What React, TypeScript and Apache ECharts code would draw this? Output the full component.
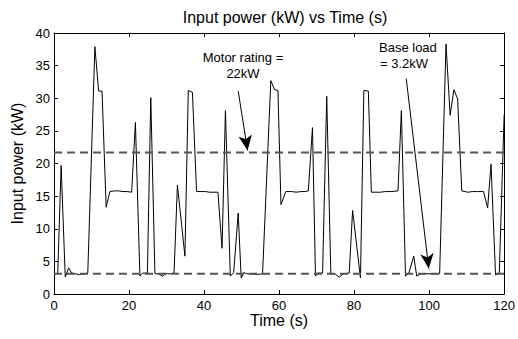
import React, { useEffect, useRef } from "react";
import * as echarts from "echarts";

const timeS: number[] = [1, 1.9, 3.0, 3.9, 4.7, 5.8, 6.8, 8.0, 9.0, 10.9, 11.9, 12.8, 13.9, 14.9, 16.1, 17.2, 18.4, 19.5, 20.7, 21.7, 22.9, 23.6, 24.9, 25.8, 26.9, 27.8, 28.9, 29.8, 31.0, 32.0, 32.9, 34.9, 35.8, 36.9, 38.0, 39.2, 40.4, 41.5, 42.6, 43.7, 44.8, 45.7, 47.0, 47.9, 49.1, 49.9, 50.6, 51.4, 52.7, 54.1, 55.6, 57.8, 58.8, 59.7, 60.5, 61.8, 63.4, 64.6, 65.8, 67.0, 67.8, 68.9, 69.7, 70.3, 71.6, 72.7, 73.8, 74.9, 76.0, 77.1, 78.7, 79.6, 81.7, 82.6, 83.8, 84.6, 85.8, 87.0, 88.4, 89.8, 91.7, 92.6, 93.7, 94.6, 95.9, 96.7, 97.9, 99.2, 100.5, 101.7, 102.8, 104.5, 105.6, 106.6, 107.6, 108.7, 110.3, 111.6, 112.9, 114.5, 115.6, 116.5, 117.7, 118.7, 120];

const powerKW: number[] = [3.2, 19.7, 2.6, 4.0, 3.2, 3.1, 2.95, 3.1, 3.2, 37.9, 31.1, 31.1, 13.3, 15.7, 15.8, 15.8, 15.7, 15.7, 15.6, 26.3, 2.75, 3.2, 3.2, 30.1, 3.1, 3.1, 2.75, 3.1, 3.1, 3.2, 16.7, 5.8, 31.2, 30.9, 15.7, 15.7, 15.7, 15.6, 15.6, 15.6, 7.0, 28.1, 2.75, 3.3, 12.4, 2.45, 3.3, 3.1, 3.1, 3.0, 3.1, 32.7, 31.3, 31.2, 13.7, 15.7, 15.7, 15.6, 15.7, 15.7, 15.8, 25.5, 2.75, 3.2, 3.2, 30.3, 3.06, 3.1, 2.55, 3.1, 3.2, 12.8, 2.45, 31.2, 31.1, 15.6, 15.6, 15.6, 15.7, 15.7, 15.8, 28.1, 2.75, 3.2, 5.8, 2.75, 3.1, 3.1, 3.1, 3.1, 3.1, 38.3, 27.4, 31.3, 29.9, 15.8, 15.6, 15.7, 15.7, 15.7, 13.2, 19.9, 2.95, 3.1, 27.5];

const xRange: number[] = [0, 120];
const motorRatingKW = 21.7;
const baseLoadKW = 3.1;

// arrows: [startTime, startPower, tipTime, tipPower]
const motorArrow: number[] = [49.1, 31.1, 51.6, 22.0];
const baseArrow: number[] = [93.9, 33.0, 99.9, 3.9];

const FONT = "'Liberation Sans', Arial, Helvetica, sans-serif";

export default function App() {
  const ref = useRef<HTMLDivElement>(null);
  useEffect(() => {
    if (!ref.current) return;
    const chart = echarts.init(ref.current, undefined, { renderer: "svg" });
    const axisCommon = {
      type: "value" as const,
      axisLine: { show: true, onZero: false, lineStyle: { color: "#000", width: 1 } },
      axisTick: { show: true, inside: true, length: 4, lineStyle: { color: "#000" } },
      splitLine: { show: false },
    };
    chart.setOption({
      animation: false,
      backgroundColor: "#fff",
      title: {
        text: "Input power (kW) vs Time (s)",
        left: 280,
        textAlign: "center",
        top: 4,
        textStyle: { fontFamily: FONT, fontSize: 16, fontWeight: "normal", color: "#000" },
      },
      grid: { left: 54, right: 12, top: 33, bottom: 45 },
      xAxis: [
        {
          ...axisCommon,
          min: 0,
          max: 120,
          interval: 20,
          position: "bottom",
          name: "Time (s)",
          nameLocation: "middle",
          nameGap: 18,
          nameMoveOverlap: false,
          nameTextStyle: { fontFamily: FONT, fontSize: 16, color: "#000", verticalAlign: "top" },
          axisLabel: { fontFamily: FONT, fontSize: 13, color: "#000", margin: 5 },
        },
        {
          ...axisCommon,
          min: 0,
          max: 120,
          interval: 20,
          position: "top",
          axisLabel: { show: false },
        },
      ],
      yAxis: [
        {
          ...axisCommon,
          min: 0,
          max: 40,
          interval: 5,
          position: "left",
          name: "Input power (kW)",
          nameLocation: "middle",
          nameGap: 29,
          nameMoveOverlap: false,
          nameRotate: 90,
          nameTextStyle: { fontFamily: FONT, fontSize: 16, color: "#000" },
          axisLabel: { fontFamily: FONT, fontSize: 13, color: "#000", margin: 4 },
        },
        {
          ...axisCommon,
          min: 0,
          max: 40,
          interval: 5,
          position: "right",
          axisLabel: { show: false },
        },
      ],
      series: [
        {
          type: "line",
          data: timeS.map((t, i) => [t, powerKW[i]]),
          showSymbol: false,
          lineStyle: { color: "#000", width: 1 },
          itemStyle: { color: "#000" },
          silent: true,
          markLine: {
            silent: true,
            symbol: ["none", "arrow"],
            symbolSize: [10, 15],
            label: { show: false },
            lineStyle: { color: "#000", width: 1, type: "solid" },
            data: [
              [{ coord: [motorArrow[0], motorArrow[1]] }, { coord: [motorArrow[2], motorArrow[3]] }],
              [{ coord: [baseArrow[0], baseArrow[1]] }, { coord: [baseArrow[2], baseArrow[3]] }],
            ],
          },
        },
        {
          type: "line",
          data: xRange.map((x) => [x, motorRatingKW]),
          showSymbol: false,
          lineStyle: { color: "#555", width: 2, type: [8, 5] },
          silent: true,
        },
        {
          type: "line",
          data: xRange.map((x) => [x, baseLoadKW]),
          showSymbol: false,
          lineStyle: { color: "#555", width: 2, type: [8, 5] },
          silent: true,
        },
      ],
      graphic: [
        { type: "text", x: 243, y: 57, style: { text: "Motor rating =", fill: "#000", font: `13px ${FONT}`, textAlign: "center", textVerticalAlign: "middle" } },
        { type: "text", x: 243, y: 73, style: { text: "22kW", fill: "#000", font: `13px ${FONT}`, textAlign: "center", textVerticalAlign: "middle" } },
        { type: "text", x: 379, y: 47, style: { text: "Base load", fill: "#000", font: `13px ${FONT}`, textAlign: "left", textVerticalAlign: "middle" } },
        { type: "text", x: 380, y: 63, style: { text: "= 3.2kW", fill: "#000", font: `13px ${FONT}`, textAlign: "left", textVerticalAlign: "middle" } },
      ],
    });
    return () => chart.dispose();
  }, []);
  return <div ref={ref} style={{ width: 518, height: 339, position: "absolute", left: 0, top: 0 }} />;
}
